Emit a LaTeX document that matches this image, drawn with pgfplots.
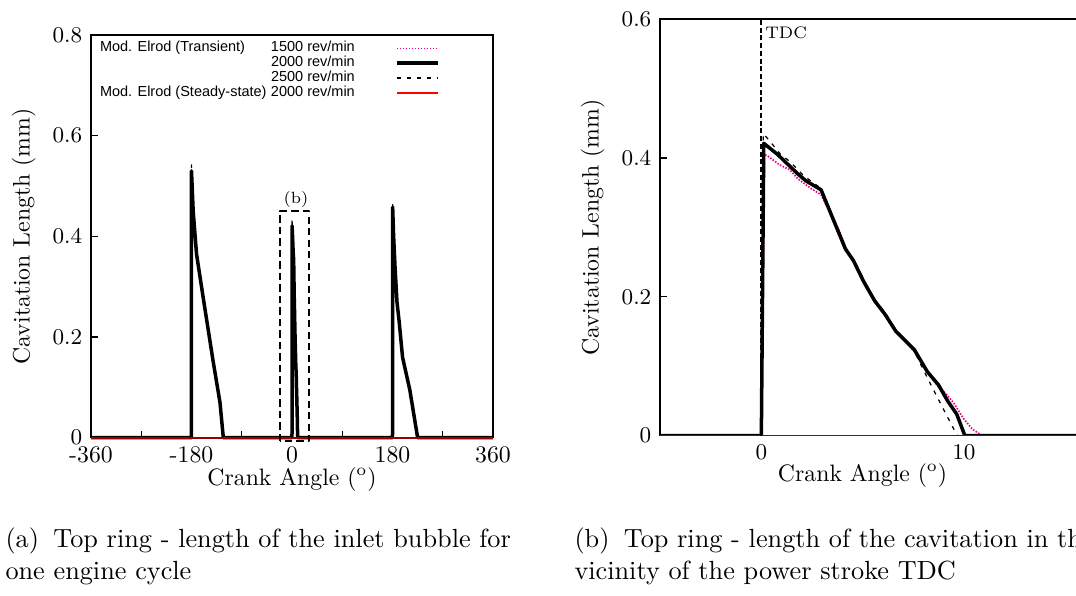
\documentclass[border=0pt]{standalone}
\usepackage{fontspec}
\usepackage{pgfplots}
\usepackage{pgfplotstable}
\pgfplotsset{compat=1.18}
\newfontfamily\helv{Liberation Sans}

% 1500 rev/min, transient
\pgfplotstableread{
x y
-360 0
-180.3 0
-180 0.525
-177 0.445
-171 0.362
-160 0.283
-141 0.150
-129 0.071
-122.5 0
0 0
0.15 0.405
0.3 0.403
0.9 0.390
1.4 0.383
1.8 0.370
2.45 0.356
2.95 0.347
3.4 0.320
3.85 0.295
4.2 0.268
4.6 0.250
5.1 0.222
5.6 0.195
6.1 0.176
6.65 0.150
7.0 0.139
7.6 0.120
8.2 0.093
8.7 0.072
9.1 0.061
9.5 0.047
10.0 0.024
10.4 0.010
10.9 0
180 0
180.3 0.452
182 0.396
184.5 0.336
188 0.268
192 0.229
198 0.160
211 0.096
225.5 0
360 0
}\sA

% 2000 rev/min, transient
\pgfplotstableread{
x y
-360 0
-180.3 0
-180 0.530
-177 0.450
-171 0.365
-160 0.285
-141 0.150
-129 0.070
-123 0
0 0
0.12 0.421
0.8 0.405
1.8 0.377
2.2 0.367
2.95 0.354
3.5 0.315
4.15 0.269
4.55 0.252
5.05 0.222
5.6 0.194
6.1 0.175
6.65 0.150
7.0 0.140
7.55 0.124
8.2 0.092
8.75 0.073
9.2 0.050
9.65 0.031
10.05 0
180 0
180.3 0.458
182 0.400
184.5 0.340
188 0.270
192 0.230
198 0.160
211 0.095
225 0
360 0
}\sB

% 2500 rev/min, transient
\pgfplotstableread{
x y
-360 0
-180.3 0
-180 0.542
-177 0.455
-171 0.366
-160 0.285
-141 0.149
-129 0.069
-123.5 0
0 0
0.1 0.435
0.45 0.423
0.95 0.405
1.4 0.395
2.1 0.374
2.95 0.356
3.5 0.318
4.15 0.270
4.55 0.253
5.05 0.224
5.6 0.196
6.1 0.178
6.65 0.152
7.0 0.141
7.55 0.122
8.0 0.095
8.5 0.066
9.05 0.035
9.6 0.004
9.7 0
180 0
180.3 0.463
182 0.403
184.5 0.341
188 0.270
192 0.229
198 0.159
211 0.094
224.5 0
360 0
}\sC

% 2000 rev/min, steady-state
\pgfplotstableread{
x y
-360 0
360 0
}\sD

\pgfplotsset{
  common/.style={
    scale only axis,
    anchor=south west,
    tick align=inside,
    xtick pos=bottom,
    ytick pos=left,
    major tick length=2.8pt,
    minor tick length=2.8pt,
    tick style={black, line width=0.5pt},
    axis line style={line width=0.6pt},
    ticklabel style={font=\fontsize{9.5}{11}\selectfont},
    label style={font=\fontsize{9.5}{11}\selectfont},
    xlabel={Crank Angle (\textsuperscript{o})},
    ylabel={Cavitation Length (mm)},
    every axis plot/.append style={line join=round},
  },
  s1500/.style={magenta, line width=0.7pt, dash pattern=on 0.6pt off 0.6pt},
  s2000/.style={black, line width=1.4pt},
  s2500/.style={black, line width=0.5pt, dash pattern=on 1.6pt off 2.4pt},
  sSS/.style={red!60!black, line width=0.8pt},
}

\begin{document}
\begin{tikzpicture}
\useasboundingbox (0,0) rectangle (430.4pt,238pt);
\clip (0,0) rectangle (430.4pt,238pt);

% ---------------- (a) ----------------
\begin{axis}[common,
  at={(36.4pt,62.92pt)},
  width=160.8pt, height=161.08pt,
  xmin=-360, xmax=360, ymin=0, ymax=0.8,
  xtick={-360,-180,0,180,360},
  xticklabels={-360,-180,0,180,360},
  minor xtick={-270,-90,90,270},
  ytick={0,0.2,0.4,0.6,0.8},
  xlabel style={yshift=5pt},
  clip=false,
  legend style={at={(0.0224,0.985)}, anchor=north west, draw=none, fill=none,
    inner sep=0pt, outer sep=0pt,
    font=\helv\fontsize{5.8}{6}\selectfont,
    nodes={inner sep=0pt, text height=4.3pt, text depth=1.6pt},
    row sep=0pt, column sep=0pt},
  legend cell align=left,
  legend plot pos=right,
  legend image code/.code={\draw[#1] (0pt,0pt) -- (16.3pt,0pt);},
]
\addplot[s1500] table {\sA};
\addlegendentry{\makebox[118pt][l]{\makebox[68.4pt][l]{Mod. Elrod (Transient)}1500 rev/min}}
\addplot[s2000] table {\sB};
\addlegendentry{\makebox[118pt][l]{\makebox[68.4pt][l]{}2000 rev/min}}
\addplot[s2500] table {\sC};
\addlegendentry{\makebox[118pt][l]{\makebox[68.4pt][l]{}2500 rev/min}}
\addplot[sSS, legend image code/.code={\draw[red, line width=0.8pt] (0pt,0pt) -- (16.3pt,0pt);}] table {\sD};
\addlegendentry{\makebox[118pt][l]{\makebox[68.4pt][l]{Mod. Elrod (Steady-state)}2000 rev/min}}
\addplot[black, line width=1pt, dash pattern=on 2.9pt off 1.7pt, forget plot]
  coordinates {(-21.5,-0.007) (-21.5,0.45) (30.4,0.45) (30.4,-0.007) (-21.5,-0.007)};
\node[font=\fontsize{6.5}{7}\selectfont, inner sep=0pt] at (axis cs:7,0.474) {(b)};
\end{axis}

% ---------------- (b) ----------------
\begin{axis}[common,
  at={(264pt,63.72pt)},
  width=170.1pt, height=166.68pt,
  xmin=-5, xmax=16, ymin=0, ymax=0.6,
  xtick={0,10},
  ytick={0,0.2,0.4,0.6},
  xlabel style={at={(ticklabel cs:0.476)}, yshift=5pt},
]
\addplot[s1500] table {\sA};
\addplot[s2000] table {\sB};
\addplot[s2500] table {\sC};
\addplot[sSS] table {\sD};
\addplot[black, line width=0.8pt, dash pattern=on 2pt off 1.1pt, forget plot]
  coordinates {(0,0) (0,0.6)};
\node[font=\fontsize{6.7}{7}\selectfont, inner sep=0pt, anchor=west] at (axis cs:0.17,0.58) {TDC};
\end{axis}

% ---------------- captions ----------------
\node[anchor=base west, align=left, inner sep=0pt, font=\fontsize{10.5}{12.4}\selectfont]
  at (2pt,6.4pt) {(a)\hspace{0.55em}Top ring - length of the inlet bubble for\\one engine cycle};
\node[anchor=base west, align=left, inner sep=0pt, font=\fontsize{10.5}{12.4}\selectfont]
  at (229.6pt,6.4pt) {(b)\hspace{0.55em}Top ring - length of the cavitation in the\\vicinity of the power stroke TDC};
\end{tikzpicture}
\end{document}
